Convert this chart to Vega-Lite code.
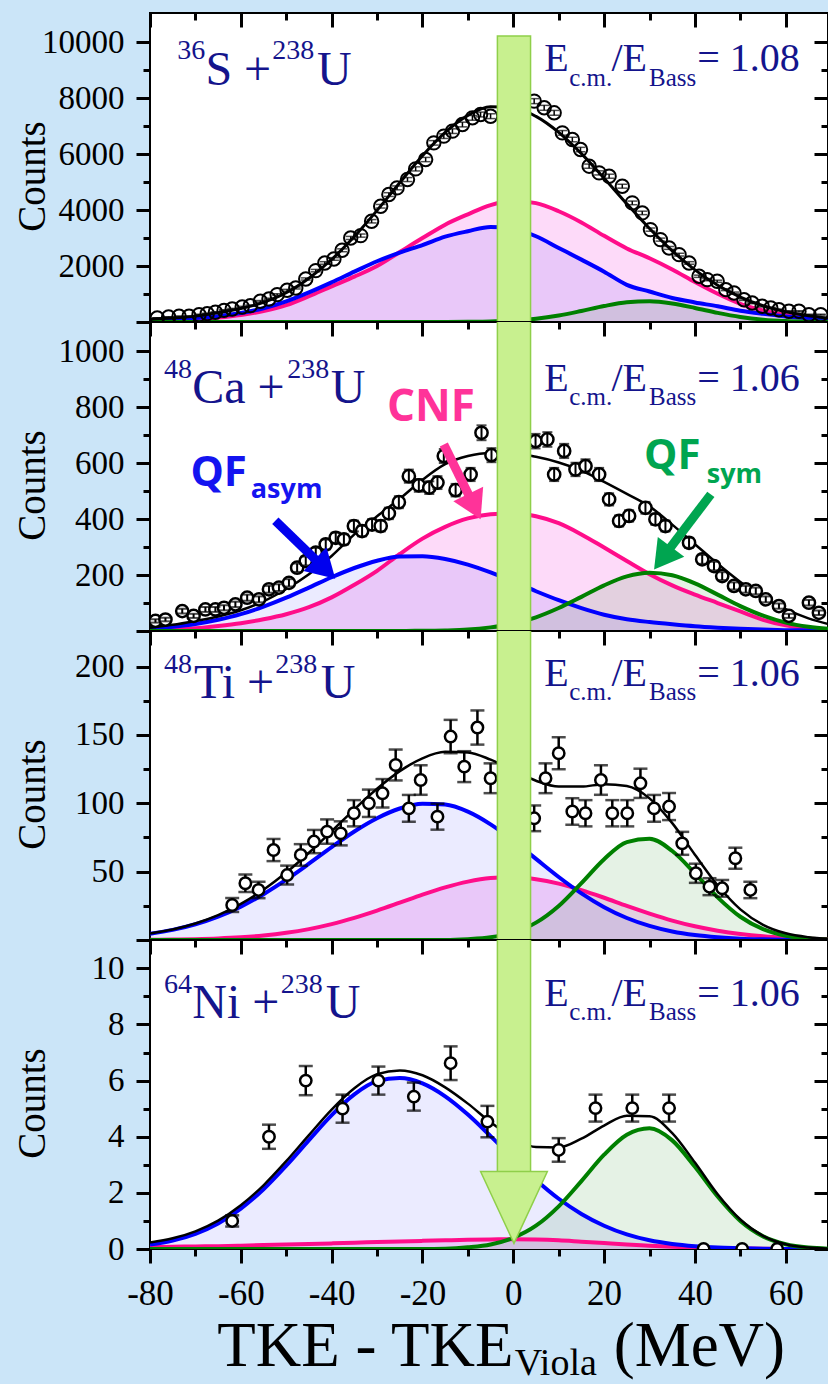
{
  "$schema": "https://vega.github.io/schema/vega-lite/v6.json",
  "background": "#cbe5f8",
  "padding": {"left": 12, "top": 10, "right": 0, "bottom": 0},
  "spacing": 0,
  "bounds": "flush",
  "config": {
    "view": {"stroke": "black", "strokeWidth": 2, "fill": "white"},
    "axis": {
      "labelFont": "Liberation Serif", "labelFontSize": 33, "labelColor": "black",
      "ticks": true, "tickColor": "#000000", "tickWidth": 3, "tickOpacity": 1, "zindex": 1,
      "domain": false, "grid": false,
      "titleFont": "Liberation Serif", "titleFontSize": 39, "titleFontWeight": "normal", "titleColor": "black",
      "labelFlush": false, "labelOverlap": false
    }
  },
  "datasets": {
    "c1": [
      {"x": -80, "b": 60, "p": 40, "g": 0, "t": 100},
      {"x": -75, "b": 90, "p": 65, "g": 0, "t": 140},
      {"x": -70, "b": 140, "p": 100, "g": 0, "t": 210},
      {"x": -65, "b": 210, "p": 160, "g": 0, "t": 330},
      {"x": -60, "b": 320, "p": 250, "g": 0, "t": 480},
      {"x": -55, "b": 490, "p": 390, "g": 0, "t": 700},
      {"x": -50, "b": 740, "p": 600, "g": 0, "t": 1045},
      {"x": -45, "b": 1060, "p": 920, "g": 0, "t": 1563},
      {"x": -40, "b": 1420, "p": 1276, "g": 0, "t": 2235},
      {"x": -35, "b": 1800, "p": 1620, "g": 0, "t": 3055},
      {"x": -30, "b": 2172, "p": 2000, "g": 0, "t": 3990},
      {"x": -25, "b": 2480, "p": 2500, "g": 0, "t": 4981},
      {"x": -20, "b": 2750, "p": 3000, "g": 0, "t": 5943},
      {"x": -15, "b": 3050, "p": 3480, "g": 1, "t": 6777},
      {"x": -10, "b": 3245, "p": 3850, "g": 6, "t": 7385},
      {"x": -5, "b": 3400, "p": 4180, "g": 18, "t": 7692},
      {"x": 0, "b": 3330, "p": 4330, "g": 50, "t": 7667},
      {"x": 5, "b": 3066, "p": 4250, "g": 117, "t": 7349},
      {"x": 10, "b": 2648, "p": 3960, "g": 233, "t": 6779},
      {"x": 15, "b": 2230, "p": 3560, "g": 395, "t": 6018},
      {"x": 20, "b": 1800, "p": 3080, "g": 571, "t": 5140},
      {"x": 25, "b": 1330, "p": 2630, "g": 703, "t": 4225},
      {"x": 30, "b": 1090, "p": 2280, "g": 738, "t": 3341},
      {"x": 35, "b": 860, "p": 1880, "g": 660, "t": 2544},
      {"x": 40, "b": 700, "p": 1430, "g": 503, "t": 1863},
      {"x": 45, "b": 560, "p": 1010, "g": 326, "t": 1313},
      {"x": 50, "b": 400, "p": 650, "g": 180, "t": 890},
      {"x": 55, "b": 290, "p": 410, "g": 85, "t": 581},
      {"x": 60, "b": 200, "p": 250, "g": 34, "t": 365},
      {"x": 65, "b": 130, "p": 150, "g": 12, "t": 220},
      {"x": 70, "b": 80, "p": 80, "g": 3, "t": 128}
    ],
    "c2": [
      {"x": -80, "b": 8, "p": 3, "g": 0, "t": 12},
      {"x": -75, "b": 15, "p": 6, "g": 0, "t": 22},
      {"x": -70, "b": 25, "p": 10, "g": 0, "t": 36},
      {"x": -65, "b": 40, "p": 18, "g": 0, "t": 52},
      {"x": -60, "b": 60, "p": 28, "g": 0, "t": 74},
      {"x": -55, "b": 87, "p": 42, "g": 0, "t": 106},
      {"x": -50, "b": 119, "p": 60, "g": 0, "t": 150},
      {"x": -45, "b": 155, "p": 85, "g": 0, "t": 203},
      {"x": -40, "b": 192, "p": 120, "g": 0, "t": 268},
      {"x": -35, "b": 225, "p": 165, "g": 0, "t": 345},
      {"x": -30, "b": 251, "p": 215, "g": 0, "t": 410},
      {"x": -25, "b": 266, "p": 275, "g": 0, "t": 472},
      {"x": -20, "b": 267, "p": 330, "g": 1, "t": 540},
      {"x": -15, "b": 257, "p": 372, "g": 2, "t": 596},
      {"x": -10, "b": 237, "p": 402, "g": 5, "t": 625},
      {"x": -5, "b": 209, "p": 417, "g": 13, "t": 636},
      {"x": 0, "b": 176, "p": 420, "g": 26, "t": 635},
      {"x": 5, "b": 142, "p": 410, "g": 49, "t": 622},
      {"x": 10, "b": 110, "p": 385, "g": 82, "t": 602},
      {"x": 15, "b": 82, "p": 345, "g": 122, "t": 573},
      {"x": 20, "b": 58, "p": 298, "g": 163, "t": 533},
      {"x": 25, "b": 42, "p": 250, "g": 195, "t": 490},
      {"x": 30, "b": 32, "p": 203, "g": 208, "t": 445},
      {"x": 35, "b": 24, "p": 163, "g": 199, "t": 380},
      {"x": 40, "b": 17, "p": 130, "g": 170, "t": 310},
      {"x": 45, "b": 12, "p": 100, "g": 130, "t": 240},
      {"x": 50, "b": 8, "p": 70, "g": 89, "t": 175},
      {"x": 55, "b": 5, "p": 40, "g": 55, "t": 120},
      {"x": 60, "b": 3, "p": 20, "g": 30, "t": 78},
      {"x": 65, "b": 2, "p": 10, "g": 15, "t": 45},
      {"x": 70, "b": 1, "p": 5, "g": 7, "t": 22}
    ],
    "c3": [
      {"x": -80, "b": 4.6, "p": 0.16, "g": 0, "t": 4.8},
      {"x": -75, "b": 7.4, "p": 0.32, "g": 0, "t": 7.7},
      {"x": -70, "b": 11.5, "p": 0.62, "g": 0, "t": 12.1},
      {"x": -65, "b": 17.1, "p": 1.13, "g": 0, "t": 18.2},
      {"x": -60, "b": 24.4, "p": 1.97, "g": 0, "t": 26.4},
      {"x": -55, "b": 33.5, "p": 3.28, "g": 0, "t": 36.8},
      {"x": -50, "b": 44.1, "p": 5.23, "g": 0, "t": 49.3},
      {"x": -45, "b": 55.8, "p": 7.97, "g": 0, "t": 63.8},
      {"x": -40, "b": 67.9, "p": 11.6, "g": 0, "t": 79.5},
      {"x": -35, "b": 79.4, "p": 16.2, "g": 0, "t": 95.6},
      {"x": -30, "b": 89.1, "p": 21.5, "g": 0, "t": 110.6},
      {"x": -25, "b": 96.2, "p": 27.3, "g": 0, "t": 123.5},
      {"x": -20, "b": 99.7, "p": 33.2, "g": 0, "t": 132.9},
      {"x": -15, "b": 99.1, "p": 38.5, "g": 0, "t": 137.6},
      {"x": -10, "b": 93.9, "p": 42.7, "g": 0.6, "t": 137.2},
      {"x": -5, "b": 84.6, "p": 45.3, "g": 2, "t": 131.9},
      {"x": 0, "b": 72.6, "p": 46, "g": 5.5, "t": 124.1},
      {"x": 5, "b": 59.3, "p": 44.5, "g": 12.7, "t": 116.5},
      {"x": 10, "b": 46.1, "p": 41.2, "g": 24.9, "t": 112.2},
      {"x": 15, "b": 34.1, "p": 36.5, "g": 41.6, "t": 112.2},
      {"x": 20, "b": 24, "p": 30.9, "g": 59.1, "t": 114},
      {"x": 25, "b": 16.1, "p": 24.9, "g": 71.6, "t": 112.6},
      {"x": 30, "b": 10.3, "p": 19.3, "g": 74, "t": 103.6},
      {"x": 35, "b": 6.2, "p": 14.2, "g": 65.1, "t": 85.5},
      {"x": 40, "b": 3.6, "p": 10, "g": 48.8, "t": 62.4},
      {"x": 45, "b": 2, "p": 6.8, "g": 31.2, "t": 40},
      {"x": 50, "b": 1, "p": 4.4, "g": 17, "t": 22.4},
      {"x": 55, "b": 0.5, "p": 2.7, "g": 7.9, "t": 11.1},
      {"x": 60, "b": 0.2, "p": 1.6, "g": 3.1, "t": 4.9},
      {"x": 65, "b": 0.1, "p": 0.9, "g": 1.05, "t": 2.05},
      {"x": 70, "b": 0, "p": 0.5, "g": 0.3, "t": 0.8}
    ],
    "c4": [
      {"x": -80, "b": 0.16, "p": 0.07, "g": 0, "t": 0.23},
      {"x": -75, "b": 0.30, "p": 0.08, "g": 0, "t": 0.38},
      {"x": -70, "b": 0.54, "p": 0.09, "g": 0, "t": 0.63},
      {"x": -65, "b": 0.91, "p": 0.10, "g": 0, "t": 1.01},
      {"x": -60, "b": 1.44, "p": 0.12, "g": 0, "t": 1.56},
      {"x": -55, "b": 2.13, "p": 0.14, "g": 0, "t": 2.27},
      {"x": -50, "b": 2.97, "p": 0.16, "g": 0, "t": 3.13},
      {"x": -45, "b": 3.88, "p": 0.18, "g": 0, "t": 4.06},
      {"x": -40, "b": 4.77, "p": 0.20, "g": 0, "t": 4.97},
      {"x": -35, "b": 5.51, "p": 0.22, "g": 0, "t": 5.73},
      {"x": -30, "b": 5.98, "p": 0.25, "g": 0, "t": 6.23},
      {"x": -25, "b": 6.09, "p": 0.27, "g": 0, "t": 6.36},
      {"x": -20, "b": 5.9, "p": 0.29, "g": 0, "t": 6.19},
      {"x": -15, "b": 5.44, "p": 0.31, "g": 0.01, "t": 5.76},
      {"x": -10, "b": 4.79, "p": 0.33, "g": 0.06, "t": 5.18},
      {"x": -5, "b": 4.02, "p": 0.34, "g": 0.16, "t": 4.52},
      {"x": 0, "b": 3.22, "p": 0.35, "g": 0.40, "t": 3.97},
      {"x": 5, "b": 2.46, "p": 0.34, "g": 0.83, "t": 3.63},
      {"x": 10, "b": 1.79, "p": 0.31, "g": 1.52, "t": 3.62},
      {"x": 15, "b": 1.25, "p": 0.26, "g": 2.42, "t": 3.93},
      {"x": 20, "b": 0.83, "p": 0.21, "g": 3.36, "t": 4.40},
      {"x": 25, "b": 0.52, "p": 0.16, "g": 4.07, "t": 4.75},
      {"x": 30, "b": 0.31, "p": 0.12, "g": 4.3, "t": 4.73},
      {"x": 35, "b": 0.18, "p": 0.08, "g": 3.87, "t": 4.13},
      {"x": 40, "b": 0.10, "p": 0.05, "g": 2.93, "t": 3.08},
      {"x": 45, "b": 0.05, "p": 0.03, "g": 1.87, "t": 1.95},
      {"x": 50, "b": 0.03, "p": 0.02, "g": 1.0, "t": 1.05},
      {"x": 55, "b": 0.01, "p": 0.01, "g": 0.45, "t": 0.47},
      {"x": 60, "b": 0, "p": 0, "g": 0.17, "t": 0.17},
      {"x": 65, "b": 0, "p": 0, "g": 0.05, "t": 0.05},
      {"x": 70, "b": 0, "p": 0, "g": 0.01, "t": 0.01}
    ],
    "d1": [
      {"x": -78.4, "y": 143, "e": 12}, {"x": -75.9, "y": 179, "e": 13}, {"x": -73.6, "y": 203, "e": 14},
      {"x": -71.4, "y": 203, "e": 14}, {"x": -69.2, "y": 262, "e": 16}, {"x": -67.4, "y": 298, "e": 17},
      {"x": -65.6, "y": 346, "e": 19}, {"x": -63.7, "y": 417, "e": 20}, {"x": -61.9, "y": 465, "e": 22},
      {"x": -59.7, "y": 537, "e": 23}, {"x": -57.9, "y": 584, "e": 24}, {"x": -55.7, "y": 740, "e": 27},
      {"x": -53.8, "y": 823, "e": 29}, {"x": -52.0, "y": 978, "e": 31}, {"x": -49.8, "y": 1133, "e": 34},
      {"x": -47.9, "y": 1216, "e": 35}, {"x": -45.7, "y": 1538, "e": 39}, {"x": -43.5, "y": 1837, "e": 43},
      {"x": -41.5, "y": 2111, "e": 46}, {"x": -39.5, "y": 2254, "e": 47}, {"x": -37.7, "y": 2564, "e": 51},
      {"x": -35.8, "y": 3005, "e": 55}, {"x": -33.6, "y": 3089, "e": 56}, {"x": -31.2, "y": 3602, "e": 60},
      {"x": -29.2, "y": 4138, "e": 64}, {"x": -27.4, "y": 4556, "e": 67}, {"x": -25.6, "y": 4795, "e": 69},
      {"x": -23.3, "y": 5092, "e": 71}, {"x": -21.5, "y": 5474, "e": 74}, {"x": -19.3, "y": 5808, "e": 76},
      {"x": -17.5, "y": 6405, "e": 80}, {"x": -15.3, "y": 6644, "e": 82}, {"x": -13.4, "y": 6823, "e": 83},
      {"x": -11.2, "y": 7060, "e": 84}, {"x": -9.0, "y": 7299, "e": 85}, {"x": -7.2, "y": 7418, "e": 86},
      {"x": -5.0, "y": 7358, "e": 86}, {"x": 4.6, "y": 7896, "e": 89}, {"x": 6.8, "y": 7657, "e": 88},
      {"x": 9.0, "y": 7478, "e": 86}, {"x": 10.8, "y": 6762, "e": 82}, {"x": 13.0, "y": 6523, "e": 81},
      {"x": 14.8, "y": 6165, "e": 79}, {"x": 16.7, "y": 5571, "e": 75}, {"x": 18.9, "y": 5331, "e": 73},
      {"x": 21.1, "y": 5212, "e": 72}, {"x": 24.0, "y": 4855, "e": 70}, {"x": 26.2, "y": 4258, "e": 65},
      {"x": 28.4, "y": 3900, "e": 62}, {"x": 30.2, "y": 3303, "e": 57}, {"x": 32.4, "y": 2945, "e": 54},
      {"x": 34.3, "y": 2648, "e": 51}, {"x": 36.5, "y": 2408, "e": 49}, {"x": 38.7, "y": 2111, "e": 46},
      {"x": 40.9, "y": 1635, "e": 40}, {"x": 42.7, "y": 1514, "e": 39}, {"x": 44.9, "y": 1456, "e": 38},
      {"x": 46.8, "y": 1156, "e": 34}, {"x": 48.6, "y": 1038, "e": 32}, {"x": 50.8, "y": 798, "e": 28},
      {"x": 52.6, "y": 680, "e": 26}, {"x": 54.8, "y": 562, "e": 24}, {"x": 56.7, "y": 501, "e": 22},
      {"x": 58.5, "y": 440, "e": 21}, {"x": 60.7, "y": 383, "e": 20}, {"x": 62.9, "y": 383, "e": 20},
      {"x": 65.1, "y": 262, "e": 16}, {"x": 67.7, "y": 262, "e": 16}
    ],
    "d2": [
      {"x": -78.8, "y": 36, "e": 6}, {"x": -76.6, "y": 41, "e": 6.4}, {"x": -72.9, "y": 71, "e": 8.4},
      {"x": -70.4, "y": 54, "e": 7.3}, {"x": -67.8, "y": 77, "e": 8.8}, {"x": -65.6, "y": 77, "e": 8.8},
      {"x": -63.7, "y": 83, "e": 9.1}, {"x": -61.2, "y": 95, "e": 9.7}, {"x": -58.6, "y": 119, "e": 10.9},
      {"x": -56.0, "y": 113, "e": 10.6}, {"x": -53.8, "y": 149, "e": 12.2}, {"x": -51.6, "y": 155, "e": 12.4},
      {"x": -49.4, "y": 172, "e": 13.1}, {"x": -47.6, "y": 226, "e": 15}, {"x": -45.7, "y": 250, "e": 15.8},
      {"x": -43.5, "y": 280, "e": 16.7}, {"x": -41.3, "y": 309, "e": 17.6}, {"x": -39.1, "y": 333, "e": 18.2},
      {"x": -37.3, "y": 327, "e": 18.1}, {"x": -35.1, "y": 375, "e": 19.4}, {"x": -33.3, "y": 357, "e": 18.9},
      {"x": -31.1, "y": 380, "e": 19.5}, {"x": -29.2, "y": 375, "e": 19.4}, {"x": -27.4, "y": 420, "e": 20.5},
      {"x": -25.2, "y": 460, "e": 21.4}, {"x": -23.0, "y": 553, "e": 23.5}, {"x": -20.8, "y": 520, "e": 22.8},
      {"x": -18.5, "y": 512, "e": 22.6}, {"x": -16.7, "y": 530, "e": 23}, {"x": -15.3, "y": 625, "e": 25},
      {"x": -12.7, "y": 503, "e": 22.4}, {"x": -9.4, "y": 559, "e": 23.6}, {"x": -7.0, "y": 708, "e": 26.6},
      {"x": -4.8, "y": 628, "e": 25.1}, {"x": 4.9, "y": 678, "e": 26}, {"x": 7.5, "y": 684, "e": 26.2},
      {"x": 9.0, "y": 559, "e": 23.6}, {"x": 11.2, "y": 643, "e": 25.4}, {"x": 13.7, "y": 577, "e": 24},
      {"x": 15.9, "y": 589, "e": 24.3}, {"x": 18.9, "y": 559, "e": 23.6}, {"x": 21.1, "y": 470, "e": 21.7},
      {"x": 23.3, "y": 393, "e": 19.8}, {"x": 25.5, "y": 411, "e": 20.3}, {"x": 29.1, "y": 440, "e": 21},
      {"x": 31.3, "y": 399, "e": 20}, {"x": 33.5, "y": 375, "e": 19.4}, {"x": 38.7, "y": 315, "e": 17.7},
      {"x": 41.6, "y": 256, "e": 16}, {"x": 44.2, "y": 232, "e": 15.2}, {"x": 46.0, "y": 196, "e": 14},
      {"x": 48.6, "y": 161, "e": 12.7}, {"x": 51.2, "y": 149, "e": 12.2}, {"x": 53.4, "y": 143, "e": 12},
      {"x": 55.6, "y": 113, "e": 10.6}, {"x": 58.5, "y": 89, "e": 9.4}, {"x": 60.7, "y": 54, "e": 7.3},
      {"x": 65.1, "y": 101, "e": 10}, {"x": 67.3, "y": 65, "e": 8.1}
    ],
    "d3": [
      {"x": -61.9, "y": 25.6, "e": 5.1}, {"x": -59.0, "y": 41.5, "e": 6.4}, {"x": -56.1, "y": 36.6, "e": 6},
      {"x": -52.8, "y": 65.8, "e": 8.1}, {"x": -49.8, "y": 47.5, "e": 6.9}, {"x": -46.8, "y": 62.2, "e": 7.9},
      {"x": -43.9, "y": 72, "e": 8.5}, {"x": -41.0, "y": 79.3, "e": 8.9}, {"x": -38.0, "y": 78, "e": 8.8},
      {"x": -35.1, "y": 92.7, "e": 9.6}, {"x": -31.8, "y": 100, "e": 10}, {"x": -28.8, "y": 107.3, "e": 10.4},
      {"x": -25.9, "y": 128, "e": 11.3}, {"x": -23.0, "y": 96.3, "e": 9.8}, {"x": -20.4, "y": 117, "e": 10.8},
      {"x": -16.7, "y": 90.2, "e": 9.5}, {"x": -13.8, "y": 148.8, "e": 12.2}, {"x": -10.8, "y": 126.8, "e": 11.3},
      {"x": -7.9, "y": 155.4, "e": 12.5}, {"x": -5.0, "y": 118.3, "e": 10.9}, {"x": 4.6, "y": 89, "e": 9.4},
      {"x": 7.1, "y": 118.3, "e": 10.9}, {"x": 10.0, "y": 136.6, "e": 11.7}, {"x": 13.0, "y": 94, "e": 9.7},
      {"x": 15.9, "y": 92.7, "e": 9.6}, {"x": 19.3, "y": 117, "e": 10.8}, {"x": 21.8, "y": 92.7, "e": 9.6},
      {"x": 25.1, "y": 92.7, "e": 9.6}, {"x": 28.0, "y": 114.6, "e": 10.7}, {"x": 31.0, "y": 96.3, "e": 9.8},
      {"x": 34.3, "y": 97.6, "e": 9.9}, {"x": 37.2, "y": 70.7, "e": 8.4}, {"x": 40.2, "y": 48.8, "e": 7},
      {"x": 43.2, "y": 39, "e": 6.2}, {"x": 46.0, "y": 37.8, "e": 6.1}, {"x": 48.9, "y": 59.8, "e": 7.7},
      {"x": 52.2, "y": 36.6, "e": 6}
    ],
    "d4": [
      {"x": -61.9, "y": 1.0, "e": 0.2}, {"x": -53.8, "y": 4.0, "e": 0.43}, {"x": -45.7, "y": 6.0, "e": 0.52},
      {"x": -37.6, "y": 5.0, "e": 0.5}, {"x": -29.7, "y": 6.0, "e": 0.5}, {"x": -21.9, "y": 5.43, "e": 0.5},
      {"x": -13.8, "y": 6.62, "e": 0.6}, {"x": -5.7, "y": 4.54, "e": 0.56}, {"x": 10.0, "y": 3.53, "e": 0.42},
      {"x": 18.1, "y": 5.02, "e": 0.48}, {"x": 26.2, "y": 5.02, "e": 0.48}, {"x": 34.3, "y": 5.02, "e": 0.48},
      {"x": 41.9, "y": 0, "e": 0}, {"x": 50.4, "y": 0, "e": 0}, {"x": 58.1, "y": 0, "e": 0}
    ]
  },
  "vconcat": [
    {
      "width": 678, "height": 309,
      "resolve": {"axis": {"x": "independent", "y": "independent"}},
      "layer": [
        {"data": {"name": "c1"}, "mark": {"type": "area", "color": "#fddaf9", "interpolate": "monotone", "clip": true},
         "encoding": {
           "x": {"field": "x", "type": "quantitative", "scale": {"domain": [-80, 69.3], "nice": false, "zero": false},
                 "axis": {"orient": "top", "values": [-80,-60,-40,-20,0,20,40,60], "tickColor": "#000000", "tickWidth": 3, "tickSize": 14, "offset": -14, "labels": false, "title": null}},
           "y": {"field": "p", "type": "quantitative", "scale": {"domain": [0, 11047], "nice": false, "zero": false},
                 "axis": {"orient": "left", "values": [0,2000,4000,6000,8000,10000], "tickColor": "#000000", "tickWidth": 3, "tickSize": 14, "labelExpr": "datum.value > 0 ? datum.label : ''", "format": "d", "labelPadding": 12, "title": "Counts", "titleX": -106, "titleY": 163, "titleAngle": 270, "titleAlign": "center", "titleBaseline": "alphabetic"}}
         }},
        {"data": {"name": "c1"}, "mark": {"type": "area", "color": "#0000ff", "opacity": 0.08, "interpolate": "monotone", "clip": true},
         "encoding": {
           "x": {"field": "x", "type": "quantitative", "axis": {"orient": "top", "values": [-70,-50,-30,-10,10,30,50], "tickColor": "#000000", "tickWidth": 3, "tickSize": 7, "offset": -7, "labels": false, "title": null}},
           "y": {"field": "b", "type": "quantitative", "axis": {"orient": "left", "values": [1000,3000,5000,7000,9000], "tickColor": "#000000", "tickWidth": 3, "tickSize": 7, "labels": false, "title": null}}
         }},
        {"data": {"name": "c1"}, "mark": {"type": "area", "color": "#008000", "opacity": 0.1, "interpolate": "monotone", "clip": true},
         "encoding": {"x": {"field": "x", "type": "quantitative", "axis": null},
           "y": {"field": "g", "type": "quantitative", "axis": {"orient": "right", "values": [0,2000,4000,6000,8000,10000], "tickColor": "#000000", "tickWidth": 3, "tickSize": 14, "offset": -14, "labels": false, "title": null}}}},
        {"data": {"name": "c1"}, "mark": {"type": "line", "color": "#ff0d8a", "strokeWidth": 4, "interpolate": "monotone", "clip": true},
         "encoding": {"x": {"field": "x", "type": "quantitative", "axis": null},
           "y": {"field": "p", "type": "quantitative", "axis": {"orient": "right", "values": [1000,3000,5000,7000,9000], "tickColor": "#000000", "tickWidth": 3, "tickSize": 7, "offset": -7, "labels": false, "title": null}}}},
        {"data": {"name": "c1"}, "mark": {"type": "line", "color": "#0000ff", "strokeWidth": 4, "interpolate": "monotone", "clip": true},
         "encoding": {"x": {"field": "x", "type": "quantitative", "axis": null}, "y": {"field": "b", "type": "quantitative", "axis": null}}},
        {"data": {"name": "c1"}, "mark": {"type": "line", "color": "#008000", "strokeWidth": 4, "interpolate": "monotone", "clip": true},
         "encoding": {"x": {"field": "x", "type": "quantitative", "axis": null}, "y": {"field": "g", "type": "quantitative", "axis": null}}},
        {"data": {"name": "c1"}, "mark": {"type": "line", "color": "black", "strokeWidth": 3, "interpolate": "monotone", "clip": true},
         "encoding": {"x": {"field": "x", "type": "quantitative", "axis": null}, "y": {"field": "t", "type": "quantitative", "axis": null}}},
        {"data": {"name": "d1"}, "mark": {"type": "point", "shape": "circle", "size": 180, "filled": false, "stroke": "black", "strokeWidth": 2, "opacity": 1, "clip": true},
         "encoding": {"x": {"field": "x", "type": "quantitative", "axis": null}, "y": {"field": "y", "type": "quantitative", "axis": null}}},
        {"data": {"name": "d1"}, "mark": {"type": "errorbar", "ticks": {"size": 10, "thickness": 1.5}, "thickness": 1.5, "color": "black", "clip": true},
         "encoding": {"x": {"field": "x", "type": "quantitative", "axis": null}, "y": {"field": "y", "type": "quantitative", "axis": null}, "yError": {"field": "e"}}},
        {"data": {"values": [{"x": -67.8, "y": 8480, "t": "S +"}, {"x": -43.2, "y": 8480, "t": "U"}]},
         "mark": {"type": "text", "font": "Liberation Serif", "fontSize": 48, "color": "#14148c", "align": "left", "baseline": "alphabetic"},
         "encoding": {"x": {"field": "x", "type": "quantitative", "axis": null}, "y": {"field": "y", "type": "quantitative", "axis": null}, "text": {"field": "t"}}},
        {"data": {"values": [{"x": -74.0, "y": 9385, "t": "36"}, {"x": -53.1, "y": 9385, "t": "238"}]},
         "mark": {"type": "text", "font": "Liberation Serif", "fontSize": 28, "color": "#14148c", "align": "left", "baseline": "alphabetic"},
         "encoding": {"x": {"field": "x", "type": "quantitative", "axis": null}, "y": {"field": "y", "type": "quantitative", "axis": null}, "text": {"field": "t"}}},
        {"data": {"values": [{"x": 6.8, "y": 8970, "t": "E"}, {"x": 21.6, "y": 8970, "t": "/E"}, {"x": 40.5, "y": 8970, "t": "= 1.08"}]},
         "mark": {"type": "text", "font": "Liberation Serif", "fontSize": 40, "color": "#14148c", "align": "left", "baseline": "alphabetic"},
         "encoding": {"x": {"field": "x", "type": "quantitative", "axis": null}, "y": {"field": "y", "type": "quantitative", "axis": null}, "text": {"field": "t"}}},
        {"data": {"values": [{"x": 12.3, "y": 8433, "t": "c.m."}, {"x": 29.9, "y": 8433, "t": "Bass"}]},
         "mark": {"type": "text", "font": "Liberation Serif", "fontSize": 25, "color": "#14148c", "align": "left", "baseline": "alphabetic"},
         "encoding": {"x": {"field": "x", "type": "quantitative", "axis": null}, "y": {"field": "y", "type": "quantitative", "axis": null}, "text": {"field": "t"}}},
        {"data": {"values": [{"x1": -3.5, "x2": 3.8, "y1": -500, "y2": 10222}]},
         "mark": {"type": "rect", "fill": "#c8f08f", "stroke": "#8fcf4a", "strokeWidth": 1.5, "clip": true},
         "encoding": {"x": {"field": "x1", "type": "quantitative", "axis": null}, "x2": {"field": "x2"}, "y": {"field": "y1", "type": "quantitative", "axis": null}, "y2": {"field": "y2"}}}
      ]
    },
    {
      "width": 678, "height": 309,
      "resolve": {"axis": {"x": "independent", "y": "independent"}},
      "layer": [
        {"data": {"name": "c2"}, "mark": {"type": "area", "color": "#fddaf9", "interpolate": "monotone", "clip": true},
         "encoding": {
           "x": {"field": "x", "type": "quantitative", "scale": {"domain": [-80, 69.3], "nice": false, "zero": false},
                 "axis": {"orient": "top", "values": [-80,-60,-40,-20,0,20,40,60], "tickColor": "#000000", "tickWidth": 3, "tickSize": 14, "offset": -14, "labels": false, "title": null}},
           "y": {"field": "p", "type": "quantitative", "scale": {"domain": [0, 1103.6], "nice": false, "zero": false},
                 "axis": {"orient": "left", "values": [0,200,400,600,800,1000], "tickColor": "#000000", "tickWidth": 3, "tickSize": 14, "labelExpr": "datum.value > 0 ? datum.label : ''", "format": "d", "labelPadding": 12, "title": "Counts", "titleX": -106, "titleY": 163, "titleAngle": 270, "titleAlign": "center", "titleBaseline": "alphabetic"}}
         }},
        {"data": {"name": "c2"}, "mark": {"type": "area", "color": "#0000ff", "opacity": 0.08, "interpolate": "monotone", "clip": true},
         "encoding": {
           "x": {"field": "x", "type": "quantitative", "axis": {"orient": "top", "values": [-70,-50,-30,-10,10,30,50], "tickColor": "#000000", "tickWidth": 3, "tickSize": 7, "offset": -7, "labels": false, "title": null}},
           "y": {"field": "b", "type": "quantitative", "axis": {"orient": "left", "values": [100,300,500,700,900], "tickColor": "#000000", "tickWidth": 3, "tickSize": 7, "labels": false, "title": null}}
         }},
        {"data": {"name": "c2"}, "mark": {"type": "area", "color": "#008000", "opacity": 0.1, "interpolate": "monotone", "clip": true},
         "encoding": {"x": {"field": "x", "type": "quantitative", "axis": null},
           "y": {"field": "g", "type": "quantitative", "axis": {"orient": "right", "values": [0,200,400,600,800,1000], "tickColor": "#000000", "tickWidth": 3, "tickSize": 14, "offset": -14, "labels": false, "title": null}}}},
        {"data": {"name": "c2"}, "mark": {"type": "line", "color": "#ff0d8a", "strokeWidth": 4, "interpolate": "monotone", "clip": true},
         "encoding": {"x": {"field": "x", "type": "quantitative", "axis": null},
           "y": {"field": "p", "type": "quantitative", "axis": {"orient": "right", "values": [100,300,500,700,900], "tickColor": "#000000", "tickWidth": 3, "tickSize": 7, "offset": -7, "labels": false, "title": null}}}},
        {"data": {"name": "c2"}, "mark": {"type": "line", "color": "#0000ff", "strokeWidth": 4, "interpolate": "monotone", "clip": true},
         "encoding": {"x": {"field": "x", "type": "quantitative", "axis": null}, "y": {"field": "b", "type": "quantitative", "axis": null}}},
        {"data": {"name": "c2"}, "mark": {"type": "line", "color": "#008000", "strokeWidth": 4, "interpolate": "monotone", "clip": true},
         "encoding": {"x": {"field": "x", "type": "quantitative", "axis": null}, "y": {"field": "g", "type": "quantitative", "axis": null}}},
        {"data": {"name": "c2"}, "mark": {"type": "line", "color": "black", "strokeWidth": 2.5, "interpolate": "monotone", "clip": true},
         "encoding": {"x": {"field": "x", "type": "quantitative", "axis": null}, "y": {"field": "t", "type": "quantitative", "axis": null}}},
        {"data": {"name": "d2"}, "mark": {"type": "point", "shape": "circle", "size": 150, "filled": true, "fill": "white", "stroke": "black", "strokeWidth": 2.5, "opacity": 1, "clip": true},
         "encoding": {"x": {"field": "x", "type": "quantitative", "axis": null}, "y": {"field": "y", "type": "quantitative", "axis": null}}},
        {"data": {"name": "d2"}, "mark": {"type": "errorbar", "ticks": {"size": 10, "thickness": 2}, "thickness": 2, "color": "black", "clip": true},
         "encoding": {"x": {"field": "x", "type": "quantitative", "axis": null}, "y": {"field": "y", "type": "quantitative", "axis": null}, "yError": {"field": "e"}}},
        {"data": {"values": [{"x": -70.7, "y": 815, "t": "Ca +"}, {"x": -40.2, "y": 815, "t": "U"}]},
         "mark": {"type": "text", "font": "Liberation Serif", "fontSize": 48, "color": "#14148c", "align": "left", "baseline": "alphabetic"},
         "encoding": {"x": {"field": "x", "type": "quantitative", "axis": null}, "y": {"field": "y", "type": "quantitative", "axis": null}, "text": {"field": "t"}}},
        {"data": {"values": [{"x": -76.9, "y": 905, "t": "48"}, {"x": -49.8, "y": 905, "t": "238"}]},
         "mark": {"type": "text", "font": "Liberation Serif", "fontSize": 28, "color": "#14148c", "align": "left", "baseline": "alphabetic"},
         "encoding": {"x": {"field": "x", "type": "quantitative", "axis": null}, "y": {"field": "y", "type": "quantitative", "axis": null}, "text": {"field": "t"}}},
        {"data": {"values": [{"x": 6.8, "y": 857, "t": "E"}, {"x": 21.6, "y": 857, "t": "/E"}, {"x": 40.5, "y": 857, "t": "= 1.06"}]},
         "mark": {"type": "text", "font": "Liberation Serif", "fontSize": 40, "color": "#14148c", "align": "left", "baseline": "alphabetic"},
         "encoding": {"x": {"field": "x", "type": "quantitative", "axis": null}, "y": {"field": "y", "type": "quantitative", "axis": null}, "text": {"field": "t"}}},
        {"data": {"values": [{"x": 12.3, "y": 805.6, "t": "c.m."}, {"x": 29.9, "y": 805.6, "t": "Bass"}]},
         "mark": {"type": "text", "font": "Liberation Serif", "fontSize": 25, "color": "#14148c", "align": "left", "baseline": "alphabetic"},
         "encoding": {"x": {"field": "x", "type": "quantitative", "axis": null}, "y": {"field": "y", "type": "quantitative", "axis": null}, "text": {"field": "t"}}},
        {"data": {"values": [{"x": -27.8, "y": 750, "t": "CNF"}]},
         "mark": {"type": "text", "font": "Open Sans", "fontWeight": "bold", "fontSize": 44, "color": "#ff3399", "align": "left", "baseline": "alphabetic"},
         "encoding": {"x": {"field": "x", "type": "quantitative", "axis": null}, "y": {"field": "y", "type": "quantitative", "axis": null}, "text": {"field": "t"}}},
        {"data": {"values": [{"x": -71.1, "y": 518, "t": "QF"}]},
         "mark": {"type": "text", "font": "Open Sans", "fontWeight": "bold", "fontSize": 42, "color": "#1414f0", "align": "left", "baseline": "alphabetic"},
         "encoding": {"x": {"field": "x", "type": "quantitative", "axis": null}, "y": {"field": "y", "type": "quantitative", "axis": null}, "text": {"field": "t"}}},
        {"data": {"values": [{"x": -57.8, "y": 476, "t": "asym"}]},
         "mark": {"type": "text", "font": "Open Sans", "fontWeight": "bold", "fontSize": 27, "color": "#1414f0", "align": "left", "baseline": "alphabetic"},
         "encoding": {"x": {"field": "x", "type": "quantitative", "axis": null}, "y": {"field": "y", "type": "quantitative", "axis": null}, "text": {"field": "t"}}},
        {"data": {"values": [{"x": 28.8, "y": 577, "t": "QF"}]},
         "mark": {"type": "text", "font": "Open Sans", "fontWeight": "bold", "fontSize": 42, "color": "#00a550", "align": "left", "baseline": "alphabetic"},
         "encoding": {"x": {"field": "x", "type": "quantitative", "axis": null}, "y": {"field": "y", "type": "quantitative", "axis": null}, "text": {"field": "t"}}},
        {"data": {"values": [{"x": 42.6, "y": 530, "t": "sym"}]},
         "mark": {"type": "text", "font": "Open Sans", "fontWeight": "bold", "fontSize": 27, "color": "#00a550", "align": "left", "baseline": "alphabetic"},
         "encoding": {"x": {"field": "x", "type": "quantitative", "axis": null}, "y": {"field": "y", "type": "quantitative", "axis": null}, "text": {"field": "t"}}},
        {"data": {"values": [{"x": -52.4, "y": 394, "xe": -43.3, "ye": 251}]},
         "mark": {"type": "rule", "color": "#0000ee", "strokeWidth": 9},
         "encoding": {"x": {"field": "x", "type": "quantitative", "axis": null}, "y": {"field": "y", "type": "quantitative", "axis": null}, "x2": {"field": "xe"}, "y2": {"field": "ye"}}},
        {"data": {"values": [{"x": -39.2, "y": 187}]},
         "mark": {"type": "point", "shape": "M0,0L-1,-1.7L1,-1.7Z", "size": 1100, "angle": 314, "filled": true, "color": "#0000ee", "opacity": 1, "strokeWidth": 0},
         "encoding": {"x": {"field": "x", "type": "quantitative", "axis": null}, "y": {"field": "y", "type": "quantitative", "axis": null}}},
        {"data": {"values": [{"x": -15.3, "y": 666, "xe": -9.7, "ye": 482}]},
         "mark": {"type": "rule", "color": "#ff3399", "strokeWidth": 9},
         "encoding": {"x": {"field": "x", "type": "quantitative", "axis": null}, "y": {"field": "y", "type": "quantitative", "axis": null}, "x2": {"field": "xe"}, "y2": {"field": "ye"}}},
        {"data": {"values": [{"x": -7.2, "y": 399}]},
         "mark": {"type": "point", "shape": "M0,0L-1,-1.7L1,-1.7Z", "size": 1100, "angle": 334, "filled": true, "color": "#ff3399", "opacity": 1, "strokeWidth": 0},
         "encoding": {"x": {"field": "x", "type": "quantitative", "axis": null}, "y": {"field": "y", "type": "quantitative", "axis": null}}},
        {"data": {"values": [{"x": 43.5, "y": 488, "xe": 34.4, "ye": 294}]},
         "mark": {"type": "rule", "color": "#00a550", "strokeWidth": 9},
         "encoding": {"x": {"field": "x", "type": "quantitative", "axis": null}, "y": {"field": "y", "type": "quantitative", "axis": null}, "x2": {"field": "xe"}, "y2": {"field": "ye"}}},
        {"data": {"values": [{"x": 31, "y": 220}]},
         "mark": {"type": "point", "shape": "M0,0L-1,-1.7L1,-1.7Z", "size": 1100, "angle": 37, "filled": true, "color": "#00a550", "opacity": 1, "strokeWidth": 0},
         "encoding": {"x": {"field": "x", "type": "quantitative", "axis": null}, "y": {"field": "y", "type": "quantitative", "axis": null}}},
        {"data": {"values": [{"x1": -3.5, "x2": 3.8, "y1": -100, "y2": 2000}]},
         "mark": {"type": "rect", "fill": "#c8f08f", "stroke": "#8fcf4a", "strokeWidth": 1.5, "clip": true},
         "encoding": {"x": {"field": "x1", "type": "quantitative", "axis": null}, "x2": {"field": "x2"}, "y": {"field": "y1", "type": "quantitative", "axis": null}, "y2": {"field": "y2"}}}
      ]
    },
    {
      "width": 678, "height": 309,
      "resolve": {"axis": {"x": "independent", "y": "independent"}},
      "layer": [
        {"data": {"name": "c3"}, "mark": {"type": "area", "color": "#fddaf9", "interpolate": "monotone", "clip": true},
         "encoding": {
           "x": {"field": "x", "type": "quantitative", "scale": {"domain": [-80, 69.3], "nice": false, "zero": false},
                 "axis": {"orient": "top", "values": [-80,-60,-40,-20,0,20,40,60], "tickColor": "#000000", "tickWidth": 3, "tickSize": 14, "offset": -14, "labels": false, "title": null}},
           "y": {"field": "p", "type": "quantitative", "scale": {"domain": [0, 226], "nice": false, "zero": false},
                 "axis": {"orient": "left", "values": [0,50,100,150,200], "tickColor": "#000000", "tickWidth": 3, "tickSize": 14, "labelExpr": "datum.value > 0 ? datum.label : ''", "format": "d", "labelPadding": 12, "title": "Counts", "titleX": -106, "titleY": 163, "titleAngle": 270, "titleAlign": "center", "titleBaseline": "alphabetic"}}
         }},
        {"data": {"name": "c3"}, "mark": {"type": "area", "color": "#0000ff", "opacity": 0.08, "interpolate": "monotone", "clip": true},
         "encoding": {
           "x": {"field": "x", "type": "quantitative", "axis": {"orient": "top", "values": [-70,-50,-30,-10,10,30,50], "tickColor": "#000000", "tickWidth": 3, "tickSize": 7, "offset": -7, "labels": false, "title": null}},
           "y": {"field": "b", "type": "quantitative", "axis": {"orient": "left", "values": [25,75,125,175], "tickColor": "#000000", "tickWidth": 3, "tickSize": 7, "labels": false, "title": null}}
         }},
        {"data": {"name": "c3"}, "mark": {"type": "area", "color": "#008000", "opacity": 0.1, "interpolate": "monotone", "clip": true},
         "encoding": {"x": {"field": "x", "type": "quantitative", "axis": null},
           "y": {"field": "g", "type": "quantitative", "axis": {"orient": "right", "values": [0,50,100,150,200], "tickColor": "#000000", "tickWidth": 3, "tickSize": 14, "offset": -14, "labels": false, "title": null}}}},
        {"data": {"name": "c3"}, "mark": {"type": "line", "color": "#ff0d8a", "strokeWidth": 4, "interpolate": "monotone", "clip": true},
         "encoding": {"x": {"field": "x", "type": "quantitative", "axis": null},
           "y": {"field": "p", "type": "quantitative", "axis": {"orient": "right", "values": [25,75,125,175], "tickColor": "#000000", "tickWidth": 3, "tickSize": 7, "offset": -7, "labels": false, "title": null}}}},
        {"data": {"name": "c3"}, "mark": {"type": "line", "color": "#0000ff", "strokeWidth": 4, "interpolate": "monotone", "clip": true},
         "encoding": {"x": {"field": "x", "type": "quantitative", "axis": null}, "y": {"field": "b", "type": "quantitative", "axis": null}}},
        {"data": {"name": "c3"}, "mark": {"type": "line", "color": "#008000", "strokeWidth": 4, "interpolate": "monotone", "clip": true},
         "encoding": {"x": {"field": "x", "type": "quantitative", "axis": null}, "y": {"field": "g", "type": "quantitative", "axis": null}}},
        {"data": {"name": "c3"}, "mark": {"type": "line", "color": "black", "strokeWidth": 2.5, "interpolate": "monotone", "clip": true},
         "encoding": {"x": {"field": "x", "type": "quantitative", "axis": null}, "y": {"field": "t", "type": "quantitative", "axis": null}}},
        {"data": {"name": "d3"}, "mark": {"type": "errorbar", "ticks": {"size": 14, "thickness": 2.5}, "thickness": 2.5, "color": "black", "clip": true},
         "encoding": {"x": {"field": "x", "type": "quantitative", "axis": null}, "y": {"field": "y", "type": "quantitative", "axis": null}, "yError": {"field": "e"}}},
        {"data": {"name": "d3"}, "mark": {"type": "point", "shape": "circle", "size": 130, "filled": true, "fill": "white", "stroke": "black", "strokeWidth": 2.5, "opacity": 1, "clip": true},
         "encoding": {"x": {"field": "x", "type": "quantitative", "axis": null}, "y": {"field": "y", "type": "quantitative", "axis": null}}},
        {"data": {"values": [{"x": -70.3, "y": 176.8, "t": "Ti +"}, {"x": -42.4, "y": 176.8, "t": "U"}]},
         "mark": {"type": "text", "font": "Liberation Serif", "fontSize": 48, "color": "#14148c", "align": "left", "baseline": "alphabetic"},
         "encoding": {"x": {"field": "x", "type": "quantitative", "axis": null}, "y": {"field": "y", "type": "quantitative", "axis": null}, "text": {"field": "t"}}},
        {"data": {"values": [{"x": -76.9, "y": 195.1, "t": "48"}, {"x": -52.4, "y": 195.1, "t": "238"}]},
         "mark": {"type": "text", "font": "Liberation Serif", "fontSize": 28, "color": "#14148c", "align": "left", "baseline": "alphabetic"},
         "encoding": {"x": {"field": "x", "type": "quantitative", "axis": null}, "y": {"field": "y", "type": "quantitative", "axis": null}, "text": {"field": "t"}}},
        {"data": {"values": [{"x": 6.8, "y": 185.8, "t": "E"}, {"x": 21.6, "y": 185.8, "t": "/E"}, {"x": 40.5, "y": 185.8, "t": "= 1.06"}]},
         "mark": {"type": "text", "font": "Liberation Serif", "fontSize": 40, "color": "#14148c", "align": "left", "baseline": "alphabetic"},
         "encoding": {"x": {"field": "x", "type": "quantitative", "axis": null}, "y": {"field": "y", "type": "quantitative", "axis": null}, "text": {"field": "t"}}},
        {"data": {"values": [{"x": 12.3, "y": 175.6, "t": "c.m."}, {"x": 29.9, "y": 175.6, "t": "Bass"}]},
         "mark": {"type": "text", "font": "Liberation Serif", "fontSize": 25, "color": "#14148c", "align": "left", "baseline": "alphabetic"},
         "encoding": {"x": {"field": "x", "type": "quantitative", "axis": null}, "y": {"field": "y", "type": "quantitative", "axis": null}, "text": {"field": "t"}}},
        {"data": {"values": [{"x1": -3.5, "x2": 3.8, "y1": -20, "y2": 400}]},
         "mark": {"type": "rect", "fill": "#c8f08f", "stroke": "#8fcf4a", "strokeWidth": 1.5, "clip": true},
         "encoding": {"x": {"field": "x1", "type": "quantitative", "axis": null}, "x2": {"field": "x2"}, "y": {"field": "y1", "type": "quantitative", "axis": null}, "y2": {"field": "y2"}}}
      ]
    },
    {
      "width": 678, "height": 309,
      "resolve": {"axis": {"x": "independent", "y": "independent"}},
      "layer": [
        {"data": {"name": "c4"}, "mark": {"type": "area", "color": "#fddaf9", "interpolate": "monotone", "clip": true},
         "encoding": {
           "x": {"field": "x", "type": "quantitative", "scale": {"domain": [-80, 69.3], "nice": false, "zero": false},
                 "axis": {"orient": "top", "values": [-80,-60,-40,-20,0,20,40,60], "tickColor": "#000000", "tickWidth": 3, "tickSize": 14, "offset": -14, "labels": false, "title": null}},
           "y": {"field": "p", "type": "quantitative", "scale": {"domain": [0, 11.01], "nice": false, "zero": false},
                 "axis": {"orient": "left", "values": [0,2,4,6,8,10], "tickColor": "#000000", "tickWidth": 3, "tickSize": 14, "format": "d", "labelPadding": 12, "title": "Counts", "titleX": -106, "titleY": 163, "titleAngle": 270, "titleAlign": "center", "titleBaseline": "alphabetic"}}
         }},
        {"data": {"name": "c4"}, "mark": {"type": "area", "color": "#0000ff", "opacity": 0.08, "interpolate": "monotone", "clip": true},
         "encoding": {
           "x": {"field": "x", "type": "quantitative", "axis": {"orient": "top", "values": [-70,-50,-30,-10,10,30,50], "tickColor": "#000000", "tickWidth": 3, "tickSize": 7, "offset": -7, "labels": false, "title": null}},
           "y": {"field": "b", "type": "quantitative", "axis": {"orient": "left", "values": [1,3,5,7,9], "tickColor": "#000000", "tickWidth": 3, "tickSize": 7, "labels": false, "title": null}}
         }},
        {"data": {"name": "c4"}, "mark": {"type": "area", "color": "#008000", "opacity": 0.1, "interpolate": "monotone", "clip": true},
         "encoding": {
           "x": {"field": "x", "type": "quantitative", "axis": {"orient": "bottom", "values": [-80,-60,-40,-20,0,20,40,60], "tickColor": "#000000", "tickWidth": 3, "tickSize": 14, "labelExpr": "datum.value + ''", "labelFontSize": 35, "labelPadding": 13, "title": null}},
           "y": {"field": "g", "type": "quantitative", "axis": {"orient": "right", "values": [0,2,4,6,8,10], "tickColor": "#000000", "tickWidth": 3, "tickSize": 14, "offset": -14, "labels": false, "title": null}}}},
        {"data": {"name": "c4"}, "mark": {"type": "line", "color": "#ff0d8a", "strokeWidth": 4, "interpolate": "monotone", "clip": true},
         "encoding": {
           "x": {"field": "x", "type": "quantitative", "axis": {"orient": "bottom", "values": [-70,-50,-30,-10,10,30,50], "tickColor": "#000000", "tickWidth": 3, "tickSize": 7, "labels": false, "title": null}},
           "y": {"field": "p", "type": "quantitative", "axis": {"orient": "right", "values": [1,3,5,7,9], "tickColor": "#000000", "tickWidth": 3, "tickSize": 7, "offset": -7, "labels": false, "title": null}}}},
        {"data": {"name": "c4"}, "mark": {"type": "line", "color": "#0000ff", "strokeWidth": 4, "interpolate": "monotone", "clip": true},
         "encoding": {"x": {"field": "x", "type": "quantitative", "axis": null}, "y": {"field": "b", "type": "quantitative", "axis": null}}},
        {"data": {"name": "c4"}, "mark": {"type": "line", "color": "#008000", "strokeWidth": 4, "interpolate": "monotone", "clip": true},
         "encoding": {"x": {"field": "x", "type": "quantitative", "axis": null}, "y": {"field": "g", "type": "quantitative", "axis": null}}},
        {"data": {"name": "c4"}, "mark": {"type": "line", "color": "black", "strokeWidth": 2.5, "interpolate": "monotone", "clip": true},
         "encoding": {"x": {"field": "x", "type": "quantitative", "axis": null}, "y": {"field": "t", "type": "quantitative", "axis": null}}},
        {"data": {"name": "d4"}, "transform": [{"filter": "datum.e > 0"}], "mark": {"type": "errorbar", "ticks": {"size": 14, "thickness": 2.5}, "thickness": 2.5, "color": "black", "clip": true},
         "encoding": {"x": {"field": "x", "type": "quantitative", "axis": null}, "y": {"field": "y", "type": "quantitative", "axis": null}, "yError": {"field": "e"}}},
        {"data": {"name": "d4"}, "mark": {"type": "point", "shape": "circle", "size": 130, "filled": true, "fill": "white", "stroke": "black", "strokeWidth": 2.5, "opacity": 1, "clip": true},
         "encoding": {"x": {"field": "x", "type": "quantitative", "axis": null}, "y": {"field": "y", "type": "quantitative", "axis": null}}},
        {"data": {"values": [{"x": -70.7, "y": 8.22, "t": "Ni +"}, {"x": -41.3, "y": 8.22, "t": "U"}]},
         "mark": {"type": "text", "font": "Liberation Serif", "fontSize": 48, "color": "#14148c", "align": "left", "baseline": "alphabetic"},
         "encoding": {"x": {"field": "x", "type": "quantitative", "axis": null}, "y": {"field": "y", "type": "quantitative", "axis": null}, "text": {"field": "t"}}},
        {"data": {"values": [{"x": -76.9, "y": 9.12, "t": "64"}, {"x": -51.2, "y": 9.12, "t": "238"}]},
         "mark": {"type": "text", "font": "Liberation Serif", "fontSize": 28, "color": "#14148c", "align": "left", "baseline": "alphabetic"},
         "encoding": {"x": {"field": "x", "type": "quantitative", "axis": null}, "y": {"field": "y", "type": "quantitative", "axis": null}, "text": {"field": "t"}}},
        {"data": {"values": [{"x": 6.8, "y": 8.66, "t": "E"}, {"x": 21.6, "y": 8.66, "t": "/E"}, {"x": 40.5, "y": 8.66, "t": "= 1.06"}]},
         "mark": {"type": "text", "font": "Liberation Serif", "fontSize": 40, "color": "#14148c", "align": "left", "baseline": "alphabetic"},
         "encoding": {"x": {"field": "x", "type": "quantitative", "axis": null}, "y": {"field": "y", "type": "quantitative", "axis": null}, "text": {"field": "t"}}},
        {"data": {"values": [{"x": 12.3, "y": 8.16, "t": "c.m."}, {"x": 29.9, "y": 8.16, "t": "Bass"}]},
         "mark": {"type": "text", "font": "Liberation Serif", "fontSize": 25, "color": "#14148c", "align": "left", "baseline": "alphabetic"},
         "encoding": {"x": {"field": "x", "type": "quantitative", "axis": null}, "y": {"field": "y", "type": "quantitative", "axis": null}, "text": {"field": "t"}}},
        {"data": {"values": [{"x1": -3.5, "x2": 3.8, "y1": 2.7, "y2": 20}]},
         "mark": {"type": "rect", "fill": "#c8f08f", "stroke": "#8fcf4a", "strokeWidth": 1.5, "clip": true},
         "encoding": {"x": {"field": "x1", "type": "quantitative", "axis": null}, "x2": {"field": "x2"}, "y": {"field": "y1", "type": "quantitative", "axis": null}, "y2": {"field": "y2"}}},
        {"data": {"values": [{"x": -7.2, "top": 2.76, "bot": 2.76}, {"x": 0.15, "top": 2.76, "bot": 0.2}, {"x": 7.5, "top": 2.76, "bot": 2.76}]},
         "mark": {"type": "area", "fill": "#c8f08f", "stroke": "#8fcf4a", "strokeWidth": 1.5, "interpolate": "linear", "opacity": 1},
         "encoding": {"x": {"field": "x", "type": "quantitative", "axis": null}, "y": {"field": "top", "type": "quantitative", "axis": null}, "y2": {"field": "bot"}}},
        {"data": {"values": [{"x": -65.2, "y": 0, "t": "TKE - TKE"}, {"x": 22.1, "y": 0, "t": "(MeV)"}]},
         "mark": {"type": "text", "font": "Liberation Serif", "fontSize": 63, "color": "black", "align": "left", "baseline": "alphabetic", "dy": 117},
         "encoding": {"x": {"field": "x", "type": "quantitative", "axis": null}, "y": {"field": "y", "type": "quantitative", "axis": null}, "text": {"field": "t"}}},
        {"data": {"values": [{"x": 0.3, "y": 0, "t": "Viola"}]},
         "mark": {"type": "text", "font": "Liberation Serif", "fontSize": 38, "color": "black", "align": "left", "baseline": "alphabetic", "dy": 126},
         "encoding": {"x": {"field": "x", "type": "quantitative", "axis": null}, "y": {"field": "y", "type": "quantitative", "axis": null}, "text": {"field": "t"}}}
      ]
    }
  ]
}
